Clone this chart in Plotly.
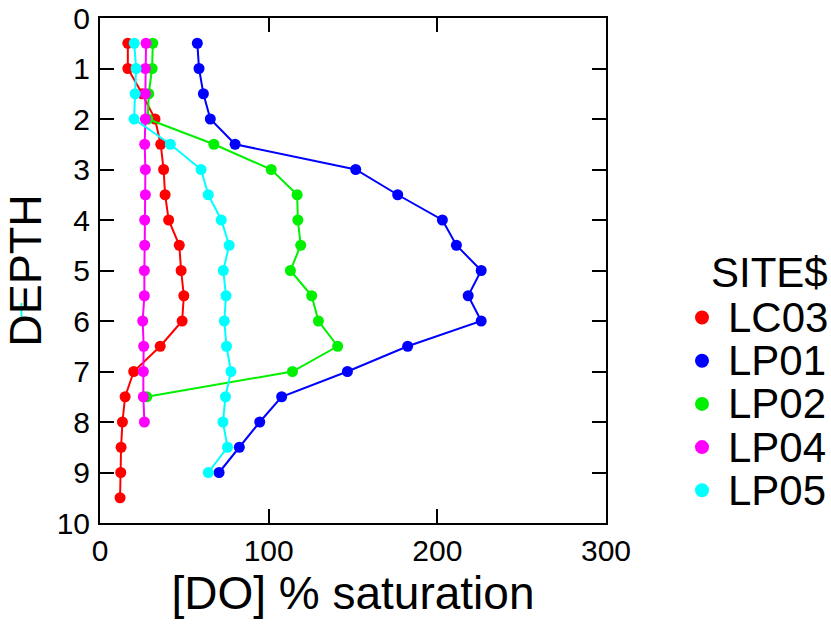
import plotly.graph_objects as go

sites = ["LC03", "LP01", "LP02", "LP04", "LP05"]
colors = ["#ff0000", "#0000ff", "#00f000", "#ff00ff", "#00ffff"]

depth_lc03 = [0.5, 1, 1.5, 2, 2.5, 3, 3.5, 4, 4.5, 5, 5.5, 6, 6.5, 7, 7.5, 8, 8.5, 9, 9.5]
do_lc03 = [16.5, 16.5, 25, 32.6, 36, 37.7, 38.6, 40.7, 47, 48.1, 49.7, 48.7, 35.7, 20, 14.9, 13.3, 12.5, 12.3, 11.9]

depth_lp01 = [0.5, 1, 1.5, 2, 2.5, 3, 3.5, 4, 4.5, 5, 5.5, 6, 6.5, 7, 7.5, 8, 8.5, 9]
do_lp01 = [57.7, 58.7, 61.3, 65.4, 80.1, 151.6, 176.5, 203, 211.3, 226, 218.3, 226, 182.4, 146.7, 107.7, 94.7, 82.6, 70.6]

depth_lp02 = [0.5, 1, 1.5, 2, 2.5, 3, 3.5, 4, 4.5, 5, 5.5, 6, 6.5, 7, 7.5]
do_lp02 = [31.3, 30.9, 28.9, 28.3, 67.5, 101.5, 116.9, 117.3, 119, 112.9, 125.5, 129.5, 140.9, 114.1, 27.7]

depth_lp04 = [0.5, 1, 1.5, 2, 2.5, 3, 3.5, 4, 4.5, 5, 5.5, 6, 6.5, 7, 7.5, 8]
do_lp04 = [27.3, 26.9, 26.9, 26.9, 26.5, 26.9, 26.9, 26.5, 26.5, 26.3, 26.3, 25.3, 25.9, 25.7, 25.7, 26.3]

depth_lp05 = [0.5, 1, 1.5, 2, 2.5, 3, 3.5, 4, 4.5, 5, 5.5, 6, 6.5, 7, 7.5, 8, 8.5, 9]
do_lp05 = [20.3, 21.4, 20.8, 20.2, 41.7, 59.9, 64.2, 71.9, 76.6, 73.1, 74.7, 73.7, 75, 77.6, 74.4, 72.9, 75.6, 64.2]

x_ticks = [0, 100, 200, 300]
y_ticks = list(range(0, 11))

series = [
    (depth_lc03, do_lc03),
    (depth_lp01, do_lp01),
    (depth_lp02, do_lp02),
    (depth_lp04, do_lp04),
    (depth_lp05, do_lp05),
]

FONT = "Liberation Sans, Arial, sans-serif"

fig = go.Figure()
for name, color, (d, v) in zip(sites, colors, series):
    fig.add_trace(go.Scatter(
        x=v, y=d, name=name, mode="lines+markers",
        line=dict(color=color, width=2),
        marker=dict(color=color, size=11),
        showlegend=False,
    ))

W, H = 831, 625
L, R, T, B = 100, 225, 18, 102
pw, ph = W - L - R, H - T - B

def px_x(px):
    return (px - L) / pw

def px_y(py):
    return (H - B - py) / ph

# custom legend (larger text than plotly legend spacing allows)
annotations = [dict(
    text="SITE$", x=px_x(769), y=px_y(272), xref="paper", yref="paper",
    showarrow=False, font=dict(family=FONT, size=42, color="black"),
    xanchor="center", yanchor="middle",
)]
shapes = []
for i, (name, color) in enumerate(zip(sites, colors)):
    cy = px_y(317.5 + i * 43.2)
    annotations.append(dict(
        text=name, x=px_x(726), y=cy, xref="paper", yref="paper",
        showarrow=False, font=dict(family=FONT, size=42, color="black"),
        xanchor="left", yanchor="middle",
    ))
    shapes.append(dict(
        type="circle", xref="paper", yref="paper",
        xsizemode="pixel", ysizemode="pixel",
        xanchor=px_x(702), yanchor=cy, x0=-7, x1=7, y0=-7, y1=7,
        fillcolor=color, line=dict(width=0),
    ))

# small cyan stroke artefact next to the y title
shapes.append(dict(type="line", xref="paper", yref="paper",
                   x0=px_x(21.5), x1=px_x(21.5), y0=px_y(303), y1=px_y(317),
                   line=dict(color="#00ffff", width=2)))

axis_common = dict(
    showline=True, mirror="ticks", linecolor="black", linewidth=2,
    ticks="inside", ticklen=14, tickwidth=2, tickcolor="black",
    showgrid=False, zeroline=False, automargin=False,
    tickfont=dict(family=FONT, size=30, color="black"),
)

fig.update_layout(
    width=W, height=H,
    margin=dict(l=L, r=R, t=T, b=B),
    paper_bgcolor="white", plot_bgcolor="white",
    xaxis=dict(range=[0, 300], tickvals=x_ticks, ticktext=[str(t) for t in x_ticks],
               title=dict(text="[DO] % saturation", font=dict(family=FONT, size=46, color="black"), standoff=6),
               ticklabelstandoff=0, **axis_common),
    yaxis=dict(range=[10, 0], tickvals=y_ticks, ticktext=[str(t) for t in y_ticks],
               title=dict(text="DEPTH", font=dict(family=FONT, size=45, color="black"), standoff=2),
               ticklabelstandoff=2, **axis_common),
    annotations=annotations,
    shapes=shapes,
    showlegend=False,
)

fig.write_html("out.html", config={"displayModeBar": False},
               post_script="document.body.style.margin='0';document.body.style.overflow='hidden';")
